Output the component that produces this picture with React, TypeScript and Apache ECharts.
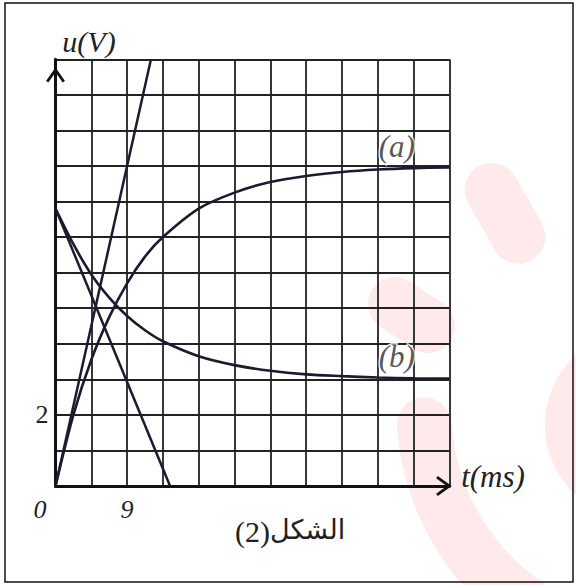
import React, { useEffect, useRef } from 'react';
import * as echarts from 'echarts';

// time samples (ms) and the two voltage curves u(t) in volts
const timeMs = [0, 2.25, 4.5, 6.75, 9, 11.25, 13.5, 18, 22.5, 27, 31.5, 36, 40.5, 45, 49.5];
const voltageA = [0, 2.0, 3.55, 4.75, 5.7, 6.45, 7.0, 7.8, 8.25, 8.55, 8.72, 8.83, 8.9, 8.94, 8.96];
const voltageB = [7.8, 6.8, 5.95, 5.3, 4.78, 4.38, 4.07, 3.65, 3.4, 3.24, 3.14, 3.09, 3.05, 3.03, 3.02];

// tangents at t = 0
const tangentA = [[0, 0], [12, 12]];
const tangentB = [[0, 7.8], [14.4, 0]];

// curve names
const curveLabels = [
  { name: '(a)', t: 42.9, u: 9.54 },
  { name: '(b)', t: 42.9, u: 3.64 },
];

// axis arrowheads (data coordinates)
const xArrow = [[47.95, 0.25], [49.5, 0], [47.95, -0.25]];
const yArrow = [[-1.05, 11.37], [0, 11.7], [1.05, 11.37]];

const X_STEP = 4.5;
const X_MAX = 49.5;
const Y_MAX = 12;
const xLabelValues = [0, 9];
const yLabelValues = [2];

const INK = '#1b1b30';
const GRID = '#222222';
const PINK = '#feeaea';
const SERIF = "'Liberation Serif', 'Times New Roman', serif";

export default function App() {
  const ref = useRef<HTMLDivElement>(null);

  useEffect(() => {
    if (!ref.current) return;
    const chart = echarts.init(ref.current, null, { renderer: 'svg' });

    const pairs = (ys: number[]) => timeMs.map((t, i) => [t, ys[i]]);

    const decorations = (arrowPts: number[][][]) => [
      // faint watermark shapes behind the chart
      {
        id: 'wm1',
        type: 'line',
        z: -10,
        silent: true,
        shape: { x1: 491.7, y1: 190, x2: 518.3, y2: 236.7 },
        style: { stroke: PINK, lineWidth: 54, lineCap: 'round' },
      },
      {
        id: 'wm2',
        type: 'line',
        z: -10,
        silent: true,
        shape: { x1: 395, y1: 304, x2: 428, y2: 326 },
        style: { stroke: PINK, lineWidth: 54, lineCap: 'round' },
      },
      {
        id: 'wm3',
        type: 'arc',
        z: -10,
        silent: true,
        shape: { cx: 660, cy: 410, r: 236, startAngle: Math.PI * 0.6, endAngle: Math.PI * 0.98, clockwise: true },
        style: { stroke: PINK, lineWidth: 55, lineCap: 'round', fill: null },
      },
      {
        id: 'wm4',
        type: 'circle',
        z: -10,
        silent: true,
        shape: { cx: 640, cy: 425, r: 95 },
        style: { fill: PINK },
      },
      // outer frame
      {
        id: 'frame',
        type: 'rect',
        z: 10,
        silent: true,
        shape: { x: 5, y: 3, width: 568, height: 579 },
        style: { stroke: '#111', lineWidth: 1.5, fill: null },
      },
      ...arrowPts.map((pts, i) => ({
        id: 'arrow' + i,
        type: 'polyline',
        z: 10,
        silent: true,
        shape: { points: pts },
        style: { stroke: '#111', lineWidth: 2.8, fill: null, lineJoin: 'miter' },
      })),
      {
        id: 'yname',
        type: 'text',
        z: 10,
        x: 89,
        y: 41,
        style: {
          text: 'u(V)',
          fontSize: 30,
          fontStyle: 'italic',
          fontFamily: SERIF,
          fill: '#222',
          align: 'center',
          verticalAlign: 'middle',
        },
      },
      {
        id: 'xname',
        type: 'text',
        z: 10,
        x: 493,
        y: 476,
        style: {
          text: 't(ms)',
          fontSize: 31,
          fontStyle: 'italic',
          fontFamily: SERIF,
          fill: '#222',
          align: 'center',
          verticalAlign: 'middle',
        },
      },
      {
        id: 'capNum',
        type: 'text',
        z: 10,
        x: 270,
        y: 531,
        style: {
          text: '(2)',
          fontSize: 30,
          fontFamily: SERIF,
          fill: '#222',
          align: 'right',
          verticalAlign: 'middle',
        },
      },
      {
        id: 'capWord',
        type: 'text',
        z: 10,
        x: 270,
        y: 529,
        style: {
          text: 'الشكل',
          fontSize: 27,
          fontFamily: "'DejaVu Sans', sans-serif",
          fill: '#222',
          align: 'left',
          verticalAlign: 'middle',
        },
      },
    ];

    chart.setOption({
      animation: false,
      backgroundColor: '#ffffff',
      grid: { left: 55.5, top: 59.3, right: 126.7, bottom: 99, containLabel: false },
      xAxis: {
        type: 'value',
        min: 0,
        max: X_MAX,
        interval: X_STEP,
        axisLine: { show: true, lineStyle: { color: '#111', width: 3 } },
        axisTick: { show: false },
        splitLine: { show: true, lineStyle: { color: GRID, width: 1.8 } },
        axisLabel: {
          show: true,
          margin: 10,
          color: '#222',
          fontSize: 26,
          fontStyle: 'italic',
          fontFamily: SERIF,
          showMinLabel: true,
          formatter: (v: number) => {
            if (!xLabelValues.includes(v)) return '';
            return v === 0 ? '{z|0}' : String(v);
          },
          rich: {
            z: {
              padding: [0, 31, 0, 0],
              fontSize: 26,
              fontStyle: 'italic',
              fontFamily: SERIF,
              color: '#222',
            },
          },
        },
      },
      yAxis: {
        type: 'value',
        min: 0,
        max: Y_MAX,
        interval: 1,
        axisLine: { show: true, lineStyle: { color: '#111', width: 3 } },
        axisTick: { show: false },
        splitLine: { show: true, lineStyle: { color: GRID, width: 1.8 } },
        axisLabel: {
          show: true,
          margin: 7,
          color: '#222',
          fontSize: 26,
          fontFamily: SERIF,
          formatter: (v: number) => (yLabelValues.includes(v) ? String(v) : ''),
        },
      },
      series: [
        {
          type: 'line',
          data: pairs(voltageA),
          smooth: 0.3,
          showSymbol: false,
          lineStyle: { color: INK, width: 2.6 },
          z: 5,
        },
        {
          type: 'line',
          data: pairs(voltageB),
          smooth: 0.3,
          showSymbol: false,
          lineStyle: { color: INK, width: 2.6 },
          z: 5,
        },
        {
          type: 'line',
          data: tangentA,
          showSymbol: false,
          lineStyle: { color: INK, width: 2.5 },
          z: 5,
        },
        {
          type: 'line',
          data: tangentB,
          showSymbol: false,
          lineStyle: { color: INK, width: 2.5 },
          z: 5,
        },
        {
          type: 'scatter',
          data: curveLabels.map((c) => ({ value: [c.t, c.u], name: c.name })),
          symbolSize: 1,
          itemStyle: { color: 'rgba(0,0,0,0)' },
          label: {
            show: true,
            position: 'inside',
            formatter: (p: any) => p.name,
            fontSize: 31,
            fontStyle: 'italic',
            fontFamily: SERIF,
            color: '#2a2a2a',
            textBorderColor: '#ffffff',
            textBorderWidth: 3,
          },
          z: 7,
        },
      ],
      graphic: decorations([]),
    });

    const toPx = (pts: number[][]) =>
      pts.map((p) => chart.convertToPixel({ xAxisIndex: 0, yAxisIndex: 0 }, p) as number[]);
    chart.setOption({ graphic: decorations([toPx(xArrow), toPx(yArrow)]) });

    return () => chart.dispose();
  }, []);

  return (
    <div
      ref={ref}
      style={{ position: 'fixed', left: 0, top: 0, width: 576, height: 585, background: '#fff' }}
    />
  );
}
